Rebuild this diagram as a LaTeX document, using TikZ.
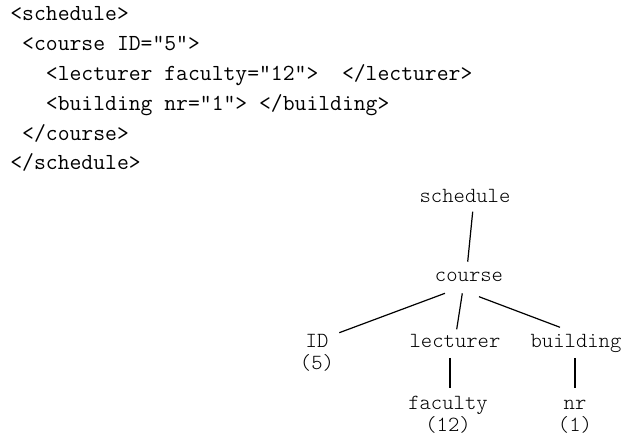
\documentclass[tikz,border=0pt]{standalone}
\usepackage{fontspec}
\setmonofont{Latin Modern Mono}
\newfontfamily\treefont{lmmonolt10-regular.otf}
\tikzset{
  codeline/.style={anchor=base west, inner sep=0pt, font=\ttfamily\fontsize{11.5}{15}\selectfont},
  treenode/.style={anchor=base, inner sep=0pt, font=\treefont\fontsize{10.8}{11}\selectfont},
  treeedge/.style={line width=0.6pt}
}
\begin{document}
\begin{tikzpicture}[x=0.5pt, y=-0.5pt]
  \useasboundingbox (0,0) rectangle (622,438);

  % XML text
  \node[codeline] (code1) at (10,20.5) {<schedule>};
  \node[codeline] (code2) at (10,50.4) {\ <course ID="5">};
  \node[codeline] (code3) at (10,80.3) {\ \ \ <lecturer faculty="12">\ \ </lecturer>};
  \node[codeline] (code4) at (10,110.2) {\ \ \ <building nr="1"> </building>};
  \node[codeline] (code5) at (10,140.1) {\ </course>};
  \node[codeline] (code6) at (10,170) {</schedule>};

  % Tree
  \node[treenode] (schedule) at (465,203) {schedule};
  \node[treenode] (course) at (469,282) {course};
  \node[treenode] (id) at (317,348) {ID};
  \node[treenode] (lecturer) at (455,348) {lecturer};
  \node[treenode] (building) at (576,348) {building};
  \node[treenode] (faculty) at (448,410) {faculty};
  \node[treenode] (nr) at (575,410) {nr};

  % Values
  \node[treenode] (idval) at ([yshift=-11pt]id.base) {(5)};
  \node[treenode] (facultyval) at ([yshift=-11pt]faculty.base) {(12)};
  \node[treenode] (nrval) at ([yshift=-11pt]nr.base) {(1)};

  % Edges
  \draw[treeedge] ([shift={(7.7,8.7)}]schedule.base) -- ([shift={(-1.3,-20.3)}]course.base);
  \draw[treeedge] ([shift={(-24,11.3)}]course.base) -- ([shift={(22.3,-15.3)}]id.base);
  \draw[treeedge] ([shift={(-6.7,11.3)}]course.base) -- ([shift={(1.7,-18.7)}]lecturer.base);
  \draw[treeedge] ([shift={(10,14.7)}]course.base) -- ([shift={(-16,-20.7)}]building.base);
  \draw[treeedge] ([shift={(-5,10)}]lecturer.base) -- ([shift={(2,-22)}]faculty.base);
  \draw[treeedge] ([shift={(-1,10)}]building.base) -- ([shift={(0,-22)}]nr.base);
\end{tikzpicture}
\end{document}
